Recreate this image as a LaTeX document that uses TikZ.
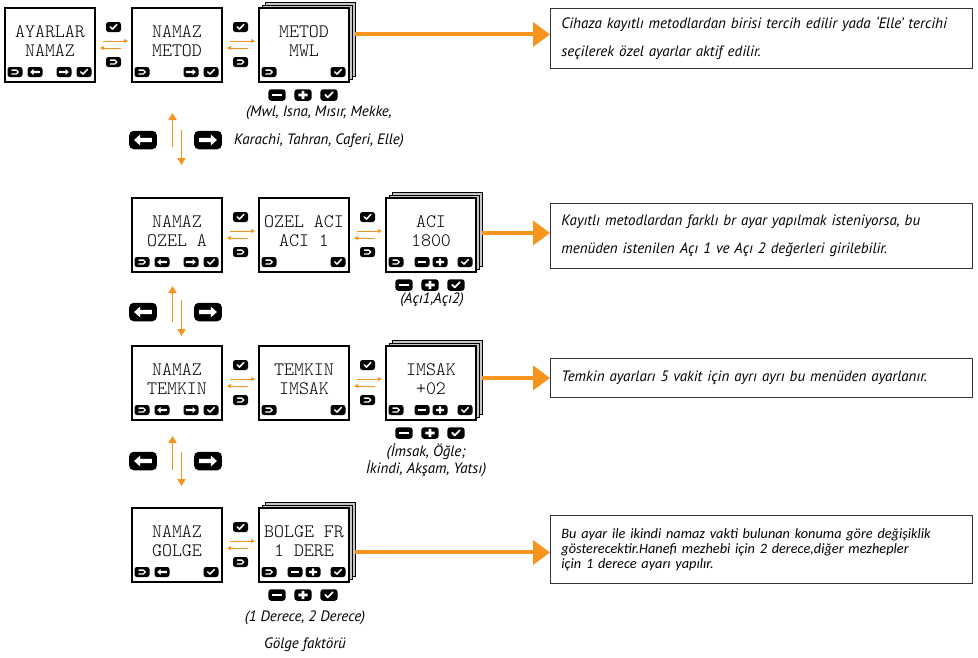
\documentclass[tikz,border=0pt]{standalone}
\usepackage{fontspec}
\setmainfont{PT Sans}
\newfontfamily\calibrifont{Carlito}
\newfontfamily\lcdfont{lmmonolt10-regular}[Extension=.otf]
\usepackage{xcolor}
\usepackage{tikz}
\usetikzlibrary{positioning}
\usetikzlibrary{arrows.meta}
\usetikzlibrary{backgrounds}
\definecolor{menuorange}{RGB}{247,148,29}

\begin{document}
\begin{tikzpicture}[x=1pt, y=-1pt,
    screen/.style={rectangle, draw=black, line width=2.4pt, fill=white, minimum width=90pt, minimum height=74pt, inner sep=0pt, outer sep=0pt},
    layer/.style={screen, fill=gray!45, line width=0.9pt},
    lcd/.style={font=\lcdfont\fontsize{19}{19}\selectfont, align=center, inner sep=0pt},
    keycap/.style={fill=black, rounded corners=2.5pt*#1, minimum width=15pt*#1, minimum height=10pt*#1, inner sep=0pt, outer sep=0pt},
    okkey/.style={keycap=#1, path picture={\draw[white, sharp corners, line width=1.5pt*#1, line cap=round, line join=round, shift={(path picture bounding box.center)}, x=#1pt, y=#1pt] (-3.3,0.2) -- (-1,-2.1) -- (3.3,2.5);}},
    okkey/.default=1,
    backkey/.style={keycap=#1, path picture={\draw[white, sharp corners, line width=1.3pt*#1, line cap=round, shift={(path picture bounding box.center)}, x=#1pt, y=#1pt] (-3.2,1.9) -- (1.3,1.9) arc[start angle=90, end angle=-90, radius=1.9] -- (-3.2,-1.9);}},
    backkey/.default=1,
    leftkey/.style={keycap=#1, path picture={\fill[white, sharp corners, shift={(path picture bounding box.center)}, x=#1pt, y=#1pt] (-4.8,0) -- (-1.5,3) -- (-1.5,1.1) -- (4.8,1.1) -- (4.8,-1.1) -- (-1.5,-1.1) -- (-1.5,-3) -- cycle;}},
    leftkey/.default=1,
    rightkey/.style={keycap=#1, path picture={\fill[white, sharp corners, shift={(path picture bounding box.center)}, x=#1pt, y=#1pt] (4.8,0) -- (1.5,3) -- (1.5,1.1) -- (-4.8,1.1) -- (-4.8,-1.1) -- (1.5,-1.1) -- (1.5,-3) -- cycle;}},
    rightkey/.default=1,
    minuskey/.style={keycap=#1, path picture={\fill[white, sharp corners, shift={(path picture bounding box.center)}, x=#1pt, y=#1pt] (-4,-1.2) rectangle (4,1.2);}},
    minuskey/.default=1,
    pluskey/.style={keycap=#1, path picture={\fill[white, sharp corners, shift={(path picture bounding box.center)}, x=#1pt, y=#1pt] (-4,-1.2) rectangle (4,1.2) (-1.2,-3.6) rectangle (1.2,3.6);}},
    pluskey/.default=1,
    swap/.style={draw=menuorange, line width=0.9pt, -{Triangle[length=4pt, width=4pt]}},
    nav/.style={draw=menuorange, line width=1.6pt, -{Triangle[length=7pt, width=8pt]}},
    lead/.style={draw=menuorange, line width=4pt, -{Triangle[length=17pt, width=24pt]}},
    info/.style={draw=black!80, line width=0.9pt, text width=400pt, inner xsep=11pt, inner ysep=0pt, align=left, anchor=north west, font=\itshape\fontsize{15}{28}\selectfont},
    caption/.style={font=\itshape\fontsize{15}{28}\selectfont, align=center, inner sep=0pt}
]
\useasboundingbox (0,0) rectangle (978,657);

% screens
\node[screen, anchor=north west] (1_1) at (5,8) {};
\node[screen] (1_2) [right=37pt of 1_1] {};
\node[screen] (1_3) [right=37pt of 1_2] {};
\node[screen] (2_1) [below=116pt of 1_2] {};
\node[screen] (2_2) [right=37pt of 2_1] {};
\node[screen] (2_3) [right=37pt of 2_2] {};
\node[screen] (3_1) [below=74pt of 2_1] {};
\node[screen] (3_2) [right=37pt of 3_1] {};
\node[screen] (3_3) [right=37pt of 3_2] {};
\node[screen] (4_1) [below=88pt of 3_1] {};
\node[screen] (4_2) [right=37pt of 4_1] {};

% stacked pages behind the value screens
\begin{scope}[on background layer]
\foreach \s in {1_3, 2_3, 3_3, 4_2} {
    \node[layer] (\s b) at ([xshift=6pt, yshift=6pt]\s.center) {};
    \node[layer] (\s a) at ([xshift=3pt, yshift=3pt]\s.center) {};
}
\end{scope}

\node[lcd] (1_1t) at ([yshift=4pt]1_1.center) {AYARLAR\\NAMAZ};
\node[lcd] (1_2t) at ([yshift=4pt]1_2.center) {NAMAZ\\METOD};
\node[lcd] (1_3t) at ([yshift=4pt]1_3.center) {METOD\\MWL};
\node[lcd] (2_1t) at ([yshift=4pt]2_1.center) {NAMAZ\\OZEL A};
\node[lcd] (2_2t) at ([yshift=4pt]2_2.center) {OZEL ACI\\ACI 1};
\node[lcd] (2_3t) at ([yshift=4pt]2_3.center) {ACI\\1800};
\node[lcd] (3_1t) at ([yshift=4pt]3_1.center) {NAMAZ\\TEMKIN};
\node[lcd] (3_2t) at ([yshift=4pt]3_2.center) {TEMKIN\\IMSAK};
\node[lcd] (3_3t) at ([yshift=4pt]3_3.center) {IMSAK\\+02};
\node[lcd] (4_1t) at ([yshift=4pt]4_1.center) {NAMAZ\\GOLGE};
\node[lcd] (4_2t) at ([yshift=4pt]4_2.center) {BOLGE FR\\1 DERE};

% keys on the screens
\foreach \s in {1_1, 1_2, 1_3, 2_1, 2_2, 2_3, 3_1, 3_2, 3_3, 4_1, 4_2} {
    \node[backkey] (\s-bk) at ([xshift=10pt, yshift=10pt]\s.south west) {};
    \node[okkey] (\s-ok) at ([xshift=-11pt, yshift=10pt]\s.south east) {};
}
\foreach \s in {1_1, 2_1, 3_1, 4_1}
    \node[leftkey] (\s-lt) at ([xshift=30pt, yshift=10pt]\s.south west) {};
\foreach \s in {1_1, 1_2, 2_1, 3_1}
    \node[rightkey] (\s-rt) at ([xshift=-31pt, yshift=10pt]\s.south east) {};
\foreach \s in {2_3, 3_3, 4_2} {
    \node[minuskey] (\s-mn) at ([xshift=-9pt, yshift=10pt]\s.south) {};
    \node[pluskey] (\s-pl) at ([xshift=9pt, yshift=10pt]\s.south) {};
}

% keys under the value screens
\foreach \s in {1_3, 2_3, 3_3, 4_2} {
    \node[minuskey=1.15] (\s-mnb) at ([xshift=-27pt, yshift=-13pt]\s.south) {};
    \node[pluskey=1.15] (\s-plb) at ([xshift=-1pt, yshift=-13pt]\s.south) {};
    \node[okkey=1.15] (\s-okb) at ([xshift=25pt, yshift=-13pt]\s.south) {};
}

% enter / back between screens
\foreach \l/\r in {1_1/1_2, 1_2/1_3, 2_1/2_2, 2_2/2_3, 3_1/3_2, 3_2/3_3, 4_1/4_2} {
    \node[okkey] (\l-\r ok) at ([xshift=18.5pt, yshift=18pt]\l.east) {};
    \node[backkey] (\l-\r bk) at ([xshift=18.5pt, yshift=-17pt]\l.east) {};
    \draw[swap, shorten <=8pt, shorten >=4pt] ([yshift=4pt]\l.east) to ([yshift=4pt]\r.west);
    \draw[swap, shorten <=11pt, shorten >=5pt] ([yshift=-3pt]\r.west) to ([yshift=-3pt]\l.east);
}

% up / down between menus
\node[leftkey=1.85] (n1l) at (143,140) {};
\node[rightkey=1.85] (n1r) at (208,140) {};
\draw[nav, shorten <=51pt, shorten >=31pt] ([xshift=-4.5pt]2_1.north) to ([xshift=-4.5pt]1_2.south);
\draw[nav, shorten <=48pt, shorten >=33pt] ([xshift=4.5pt]1_2.south) to ([xshift=4.5pt]2_1.north);

\node[leftkey=1.85] (n2l) at (143,312) {};
\node[rightkey=1.85] (n2r) at (208,312) {};
\draw[nav, shorten <=24pt, shorten >=14pt] ([xshift=-4.5pt]3_1.north) to ([xshift=-4.5pt]2_1.south);
\draw[nav, shorten <=28pt, shorten >=10pt] ([xshift=4.5pt]2_1.south) to ([xshift=4.5pt]3_1.north);

\node[leftkey=1.85] (n3l) at (143,461) {};
\node[rightkey=1.85] (n3r) at (208,461) {};
\draw[nav, shorten <=38pt, shorten >=16pt] ([xshift=-4.5pt]4_1.north) to ([xshift=-4.5pt]3_1.south);
\draw[nav, shorten <=32pt, shorten >=22pt] ([xshift=4.5pt]3_1.south) to ([xshift=4.5pt]4_1.north);

% value lists
\node[caption] (1_3cap) at (319,127) {(Mwl, Isna, Mısır, Mekke,\\Karachi, Tahran, Caferi, Elle)};
\node[caption] (2_3cap) at (432,300) {(Açı1,Açı2)};
\node[caption, font=\itshape\fontsize{15}{16}\selectfont] (3_3cap) at (426,460) {(İmsak, Öğle;\\İkindi, Akşam, Yatsı)};
\node[caption, font=\itshape\fontsize{15}{27}\selectfont] (4_2cap) at (305,631) {(1 Derece, 2 Derece)\\Gölge faktörü};

% explanations
\node[info, minimum height=60pt] (info1) at (550,8) {Cihaza kayıtlı metodlardan birisi tercih edilir yada ‘Elle’ tercihi\\seçilerek özel ayarlar aktif edilir.};
\node[info, minimum height=65pt] (info2) at (550,203) {Kayıtlı metodlardan farklı br ayar yapılmak isteniyorsa, bu\\menüden istenilen Açı 1 ve Açı 2 değerleri girilebilir.};
\node[info, minimum height=39pt] (info3) at (550,358) {Temkin ayarları 5 vakit için ayrı ayrı bu menüden ayarlanır.};
\node[info, minimum height=68pt, font=\calibrifont\itshape\fontsize{14.3}{15}\selectfont] (info4) at (550,515) {Bu ayar ile ikindi namaz vakti bulunan konuma göre değişiklik\\gösterecektir.Hanefi mezhebi için 2 derece,diğer mezhepler\\için 1 derece ayarı yapılır.};

\draw[lead] ([yshift=4pt]1_3b.east |- info1.west) to ([yshift=4pt]info1.west);
\draw[lead] ([yshift=3pt]2_3b.east |- info2.west) to ([yshift=3pt]info2.west);
\draw[lead] (3_3b.east |- info3.west) to (info3.west);
\draw[lead] ([yshift=-3pt]4_2b.east |- info4.west) to ([yshift=-3pt]info4.west);

\end{tikzpicture}
\end{document}
